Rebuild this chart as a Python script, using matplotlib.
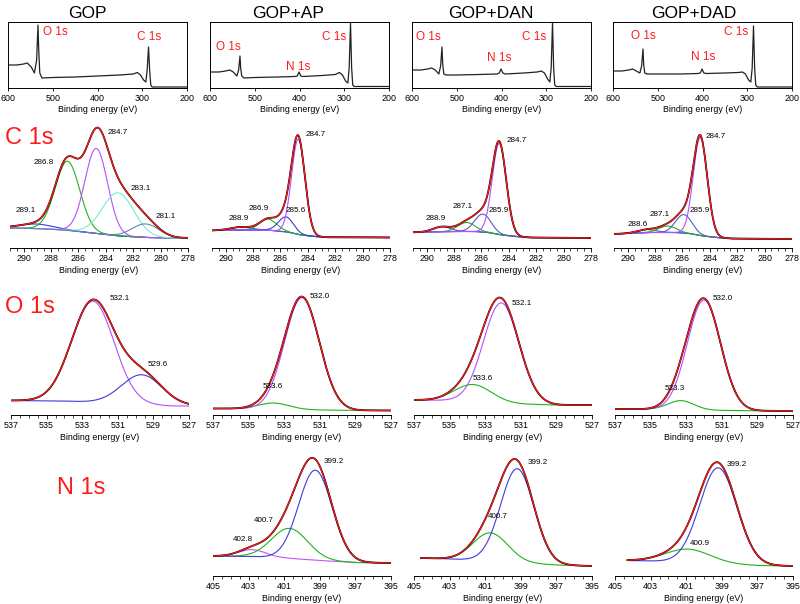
import numpy as np
import matplotlib.pyplot as plt
from matplotlib.ticker import MultipleLocator

plt.rcParams['font.family'] = ['Liberation Sans', 'DejaVu Sans']

W, H = 800, 604

samples = ['GOP', 'GOP+AP', 'GOP+DAN', 'GOP+DAD']
title_x = [87, 288, 491, 694]

# ---- survey spectra (binding energy in eV, intensity in arb. units) ----
survey_gop_e = [600, 580, 565, 557, 548, 541, 536, 533, 531.5, 529, 524, 500, 450, 400, 350,
                320, 311, 304, 297, 292, 289, 286, 283.5, 281, 278, 250, 200]
survey_gop_i = [23, 23, 24, 25, 21, 15, 28, 63, 40, 15, 10, 10.5, 11, 12, 13,
                14, 15.5, 13, 8, 6, 18, 41, 18, 3, 1, 1, 1]

survey_ap_e = [600, 580, 565, 556, 548, 540, 536, 533, 531.5, 529, 524, 500, 450, 410, 405, 401,
               397, 392, 350, 320, 311, 304, 297, 292, 289, 286, 283.5, 281, 278, 250, 200]
survey_ap_i = [16, 16, 17, 18, 16, 12, 18, 32, 20, 12, 10, 10.5, 11, 11.5, 12, 16,
               12, 11.5, 12.5, 13.5, 15.5, 13, 7, 5, 20, 65, 20, 3, 1.5, 1.5, 1.5]

survey_dan_e = survey_ap_e
survey_dan_i = [18, 18, 19, 20, 18, 14, 22, 41, 25, 14, 13, 13, 13.5, 14, 15, 19,
                15, 14, 15, 16, 17, 15, 9, 6, 20, 65, 20, 3, 1.5, 1.5, 1.5]

survey_dad_e = survey_ap_e
survey_dad_i = [17, 17, 18, 19, 17, 15, 22, 39, 24, 15, 14, 14, 14, 14.5, 15, 19,
                15, 14.5, 15, 15.5, 16, 14, 8, 6, 20, 62, 20, 3, 1, 1, 1]

survey_labels = [
    [('O 1s', 521.8, 56), ('C 1s', 311.7, 51)],
    [('O 1s', 586.6, 41), ('N 1s', 430, 21), ('C 1s', 349.7, 51)],
    [('O 1s', 591, 51), ('N 1s', 432.4, 30), ('C 1s', 354, 51)],
    [('O 1s', 559.8, 52), ('N 1s', 425.7, 31), ('C 1s', 352, 56)],
]

# ---- peak fits: centre (eV), height above background, FWHM (eV) ----
PURPLE, GREEN, BLUE, SLATE = '#b450ff', '#1eb41e', '#3c3cdc', '#5a5ac8'
AQUA, GREY_BLUE, MAGENTA = '#70f0c8', '#6482b4', '#c850ff'

c1s_gop_pos = [289.1, 286.8, 284.7, 283.1, 281.1]
c1s_gop_amp = [4.5, 69, 85, 43, 13.5]
c1s_gop_fwhm = [3.0, 2.1, 1.95, 2.7, 2.3]
c1s_gop_col = [BLUE, GREEN, PURPLE, AQUA, GREY_BLUE]
c1s_gop_bg_e = [291, 289, 287, 285, 283, 281, 279, 278]
c1s_gop_bg_i = [20, 19.5, 18, 15, 12, 10.5, 10, 10]
c1s_gop_lab = [('284.7', 283.9, 116), ('286.8', 289.25, 85), ('283.1', 282.2, 59),
               ('289.1', 290.6, 38), ('281.1', 280.4, 31)]

c1s_ap_pos = [288.9, 286.9, 285.6, 284.7]
c1s_ap_amp = [3, 11, 15, 95]
c1s_ap_fwhm = [1.8, 1.5, 1.3, 1.15]
c1s_ap_col = [SLATE, GREEN, BLUE, PURPLE]
c1s_ap_bg_e = [291, 289, 287, 285.5, 284.5, 283.5, 282.5, 278]
c1s_ap_bg_i = [17.5, 18, 18, 16, 13, 11.5, 10.7, 10.5]
c1s_ap_lab = [('284.7', 284.2, 113), ('286.9', 288.35, 40), ('285.6', 285.6, 38),
              ('288.9', 289.8, 29)]

c1s_dan_pos = [288.9, 287.1, 285.9, 284.7]
c1s_dan_amp = [5, 9, 18, 91]
c1s_dan_fwhm = [1.5, 1.5, 1.4, 1.2]
c1s_dan_col = [SLATE, GREEN, SLATE, PURPLE]
c1s_dan_bg_e = [291, 288, 286.5, 285.5, 284.5, 283.5, 282.5, 278]
c1s_dan_bg_i = [15.7, 16.5, 16.5, 15.5, 13, 11.5, 10.5, 10]
c1s_dan_lab = [('284.7', 284.2, 108), ('287.1', 288.1, 42), ('285.9', 285.5, 37),
               ('288.9', 290.05, 30)]

c1s_dad_pos = [288.6, 287.1, 285.9, 284.7]
c1s_dad_amp = [3, 6.5, 18.5, 98]
c1s_dad_fwhm = [1.6, 1.5, 1.4, 1.2]
c1s_dad_col = [SLATE, GREEN, SLATE, PURPLE]
c1s_dad_bg_e = [291, 288.5, 286.5, 285.5, 284.5, 283.5, 282.5, 278]
c1s_dad_bg_i = [14, 15.5, 15.5, 14.5, 12, 10.5, 9.5, 9]
c1s_dad_lab = [('284.7', 284.3, 112), ('287.1', 288.4, 34), ('285.9', 285.5, 38),
               ('288.6', 290.0, 24)]

o1s_gop_pos = [532.4, 529.65]
o1s_gop_amp = [101, 30]
o1s_gop_fwhm = [2.8, 2.7]
o1s_gop_col = [PURPLE, BLUE]
o1s_gop_bg_e = [537, 534, 532, 530, 528, 527]
o1s_gop_bg_i = [14.5, 14, 12.5, 10.5, 9, 9]
o1s_gop_lab = [('532.1', 531.44, 116.7), ('529.6', 529.3, 50.7)]

o1s_ap_pos = [533.6, 532.0]
o1s_ap_amp = [6, 112]
o1s_ap_fwhm = [2.0, 2.3]
o1s_ap_col = [GREEN, PURPLE]
o1s_ap_bg_e = [537, 535, 533, 531, 529, 527]
o1s_ap_bg_i = [6.5, 6.3, 5.8, 5, 4.6, 4.5]
o1s_ap_lab = [('532.0', 531.55, 118), ('533.6', 534.2, 29)]

o1s_dan_pos = [533.7, 532.1]
o1s_dan_amp = [17, 100]
o1s_dan_fwhm = [2.4, 2.35]
o1s_dan_col = [GREEN, PURPLE]
o1s_dan_bg_e = [537, 535, 533, 531, 529, 527]
o1s_dan_bg_i = [15, 14.5, 13, 11, 10, 10]
o1s_dan_lab = [('532.1', 531.5, 111.7), ('533.6', 533.7, 36.7)]

o1s_dad_pos = [533.3, 532.0]
o1s_dad_amp = [9, 110]
o1s_dad_fwhm = [1.7, 2.2]
o1s_dad_col = [GREEN, PURPLE]
o1s_dad_bg_e = [537, 535, 533, 531, 529, 527]
o1s_dad_bg_i = [6, 5.8, 5.3, 4.6, 4.2, 4]
o1s_dad_lab = [('532.0', 531.5, 117), ('533.3', 534.2, 27)]

n1s_ap_pos = [402.8, 400.7, 399.25]
n1s_ap_amp = [7, 30, 90]
n1s_ap_fwhm = [1.8, 2.4, 2.2]
n1s_ap_col = [MAGENTA, GREEN, BLUE]
n1s_ap_bg_e = [405, 403, 401, 399, 397, 395]
n1s_ap_bg_i = [20, 19.5, 18, 15.5, 13.5, 13]
n1s_ap_lab = [('399.2', 398.8, 114.3), ('400.7', 402.7, 56), ('402.8', 403.9, 36.7)]

n1s_dan_pos = [400.7, 399.2]
n1s_dan_amp = [28, 94]
n1s_dan_fwhm = [2.3, 2.2]
n1s_dan_col = [GREEN, BLUE]
n1s_dan_bg_e = [404.6, 403, 401, 399, 397, 395]
n1s_dan_bg_i = [18, 17, 15.5, 13, 11, 10]
n1s_dan_lab = [('399.2', 398.6, 114), ('400.7', 400.85, 59)]

n1s_dad_pos = [400.9, 399.2]
n1s_dad_amp = [13, 96]
n1s_dad_fwhm = [3.0, 2.45]
n1s_dad_col = [GREEN, BLUE]
n1s_dad_bg_e = [404.3, 403, 401, 399, 397, 395]
n1s_dad_bg_i = [15.5, 15, 14, 12, 10.5, 10]
n1s_dad_lab = [('399.2', 398.7, 111), ('400.9', 400.8, 32.7)]


def px_axes(fig, left, top, width, height):
    return fig.add_axes([left / W, 1 - (top + height) / H, width / W, height / H])


def peak(e, c, a, w):
    return a * np.exp(-4 * np.log(2) * (e - c) ** 2 / w ** 2)


def draw_fit(ax, pos, amp, fwhm, colors, bg_e, bg_i, labels, draw_bg):
    e = np.linspace(bg_e[0], bg_e[-1], 500)
    bg = np.interp(e, bg_e[::-1], bg_i[::-1])
    total = bg.copy()
    if draw_bg:
        ax.plot(e, bg, color=BLUE, lw=0.8)
    for c, a, w, col in zip(pos, amp, fwhm, colors):
        comp = peak(e, c, a, w)
        total += comp
        ax.plot(e, bg + comp, color=col, lw=0.8)
    ax.plot(e, total, color='black', lw=1.3)
    ax.plot(e, total, color='#ff1a1a', lw=0.9)
    for s, x, y in labels:
        ax.text(x, y, s, fontsize=5.8, ha='left', va='center')


def style_detail(ax, hi, lo, major, first):
    ax.set_xlim(hi, lo)
    ax.set_ylim(0, 123)
    for sp in ['top', 'left', 'right']:
        ax.spines[sp].set_visible(False)
    ax.spines['bottom'].set_linewidth(0.7)
    ax.set_yticks([])
    ax.set_xticks(np.arange(first, hi + 0.1, major))
    ax.xaxis.set_minor_locator(MultipleLocator(0.5))
    ax.tick_params(axis='x', which='major', length=3, width=0.6, labelsize=6.4, pad=1.5)
    ax.tick_params(axis='x', which='minor', length=1.8, width=0.5)
    ax.set_xlabel('Binding energy (eV)', fontsize=6.4, labelpad=2)
    ax.patch.set_alpha(0)


fig = plt.figure(figsize=(W / 100, H / 100), dpi=100)

survey_left = [8, 210, 412, 613]
detail_left = [10, 212, 413, 614]

surveys = [(survey_gop_e, survey_gop_i), (survey_ap_e, survey_ap_i),
           (survey_dan_e, survey_dan_i), (survey_dad_e, survey_dad_i)]

for k, (se, si) in enumerate(surveys):
    ax = px_axes(fig, survey_left[k], 22, 179, 66)
    ax.plot(se, si, color='#222222', lw=0.9)
    ax.set_xlim(600, 200)
    ax.set_ylim(0, 66)
    ax.set_yticks([])
    ax.set_xticks([600, 500, 400, 300, 200])
    ax.tick_params(axis='x', length=2.5, width=0.6, labelsize=6.4, pad=1.5)
    for sp in ax.spines.values():
        sp.set_linewidth(0.7)
    ax.set_xlabel('Binding energy (eV)', fontsize=6.4, labelpad=2)
    for s, x, y in survey_labels[k]:
        ax.text(x, y, s, color='#ff1a1a', fontsize=8.5, ha='left', va='center')
    fig.text(title_x[k] / W, 1 - 13 / H, samples[k], fontsize=12.5, ha='center', va='center')

c1s_sets = [
    (c1s_gop_pos, c1s_gop_amp, c1s_gop_fwhm, c1s_gop_col, c1s_gop_bg_e, c1s_gop_bg_i, c1s_gop_lab),
    (c1s_ap_pos, c1s_ap_amp, c1s_ap_fwhm, c1s_ap_col, c1s_ap_bg_e, c1s_ap_bg_i, c1s_ap_lab),
    (c1s_dan_pos, c1s_dan_amp, c1s_dan_fwhm, c1s_dan_col, c1s_dan_bg_e, c1s_dan_bg_i, c1s_dan_lab),
    (c1s_dad_pos, c1s_dad_amp, c1s_dad_fwhm, c1s_dad_col, c1s_dad_bg_e, c1s_dad_bg_i, c1s_dad_lab),
]
for k, d in enumerate(c1s_sets):
    ax = px_axes(fig, detail_left[k], 125, 178, 123)
    draw_fit(ax, *d, draw_bg=True)
    style_detail(ax, 291, 278, 2, 278)

o1s_sets = [
    (o1s_gop_pos, o1s_gop_amp, o1s_gop_fwhm, o1s_gop_col, o1s_gop_bg_e, o1s_gop_bg_i, o1s_gop_lab),
    (o1s_ap_pos, o1s_ap_amp, o1s_ap_fwhm, o1s_ap_col, o1s_ap_bg_e, o1s_ap_bg_i, o1s_ap_lab),
    (o1s_dan_pos, o1s_dan_amp, o1s_dan_fwhm, o1s_dan_col, o1s_dan_bg_e, o1s_dan_bg_i, o1s_dan_lab),
    (o1s_dad_pos, o1s_dad_amp, o1s_dad_fwhm, o1s_dad_col, o1s_dad_bg_e, o1s_dad_bg_i, o1s_dad_lab),
]
for k, d in enumerate(o1s_sets):
    ax = px_axes(fig, detail_left[k] + 1, 292, 178, 123)
    draw_fit(ax, *d, draw_bg=False)
    style_detail(ax, 537, 527, 2, 527)

n1s_sets = [
    (n1s_ap_pos, n1s_ap_amp, n1s_ap_fwhm, n1s_ap_col, n1s_ap_bg_e, n1s_ap_bg_i, n1s_ap_lab),
    (n1s_dan_pos, n1s_dan_amp, n1s_dan_fwhm, n1s_dan_col, n1s_dan_bg_e, n1s_dan_bg_i, n1s_dan_lab),
    (n1s_dad_pos, n1s_dad_amp, n1s_dad_fwhm, n1s_dad_col, n1s_dad_bg_e, n1s_dad_bg_i, n1s_dad_lab),
]
for k, d in enumerate(n1s_sets):
    ax = px_axes(fig, detail_left[k + 1] + 1, 453, 178, 123)
    draw_fit(ax, *d, draw_bg=False)
    style_detail(ax, 405, 395, 2, 395)

fig.text(5 / W, 1 - 138 / H, 'C 1s', color='#ff1a1a', fontsize=17, ha='left', va='center')
fig.text(5 / W, 1 - 307 / H, 'O 1s', color='#ff1a1a', fontsize=17, ha='left', va='center')
fig.text(57 / W, 1 - 488 / H, 'N 1s', color='#ff1a1a', fontsize=17, ha='left', va='center')

fig.savefig('out.png', dpi=100)
